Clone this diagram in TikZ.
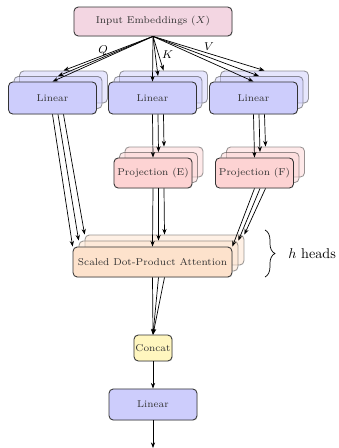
\documentclass[tikz,border=0pt]{standalone}
\usetikzlibrary{arrows.meta,decorations.pathreplacing,shadows}
\definecolor{inpc}{HTML}{F3D6E2}
\definecolor{linc}{HTML}{CDCDFC}
\definecolor{proc}{HTML}{FDD3D3}
\definecolor{attc}{HTML}{FDE2CC}
\definecolor{catc}{HTML}{FFF6BF}
\tikzset{
  box/.style={draw=black!80, rounded corners=3pt, line width=0.6pt, font=\scriptsize, inner sep=0pt, text=black!80},
  front/.style={drop shadow={opacity=0.2, shadow xshift=0.5pt, shadow yshift=-0.5pt}},
  layer/.style={fill opacity=0.5, draw opacity=0.5},
  linbox/.style={box, fill=linc, minimum width=62pt, minimum height=22.6pt},
  probox/.style={box, fill=proc, minimum width=55pt, minimum height=21.2pt},
  attbox/.style={box, fill=attc, minimum width=112pt, minimum height=21.2pt},
  arr/.style={-{Stealth[length=4pt,width=3pt]}, line width=0.5pt},
  lab/.style={font=\footnotesize, inner sep=0pt}
}
\newcommand{\mystack}[6]{%
  \node[#4, layer] (#1c) at ({#2+2*#6},{#3-2*#6}) {};
  \node[#4, layer] (#1b) at ({#2+#6},{#3-#6}) {};
  \node[#4, front] (#1a) at (#2,#3) {#5};}
\begin{document}
\begin{tikzpicture}[x=0.705pt,y=-0.705pt]
\useasboundingbox (0,0) rectangle (338,448);
\node[box, front, fill=inpc, minimum width=111.4pt, minimum height=20.4pt] (inp) at (153,21.5) {Input Embeddings ($X$)};
\mystack{linq}{52.5}{98}{linbox}{Linear}{5.5}
\mystack{link}{152.5}{98}{linbox}{Linear}{5.5}
\mystack{linv}{253.5}{98}{linbox}{Linear}{5.5}
\mystack{proe}{153}{173}{probox}{Projection (E)}{5.5}
\mystack{prof}{254.5}{173}{probox}{Projection (F)}{5.5}
\mystack{att}{152.5}{262}{attbox}{Scaled Dot-Product Attention}{6}
\node[box, front, fill=catc, minimum width=26.8pt, minimum height=18.3pt] (cat) at (153,348) {Concat};
\node[linbox, front, minimum height=21.9pt] (lin) at (153,404.5) {Linear};
\coordinate (out) at (153,448);
\foreach \l in {a,b,c} {
  \draw[arr] (inp.south) -- (linq\l.north);
  \draw[arr] (inp.south) -- (link\l.north);
  \draw[arr] (inp.south) -- (linv\l.north);
  \draw[arr] (link\l.south |- linka.south) -- (proe\l.north);
  \draw[arr] (linv\l.south |- linva.south) -- (prof\l.north);
  \draw[arr] (linq\l.south |- linqa.south) -- (att\l.north west);
  \draw[arr] (proe\l.south |- proea.south) -- (att\l.north);
  \draw[arr] (prof\l.south |- profa.south) -- (att\l.north east);
  \draw[arr] (att\l.south |- atta.south) -- (cat.north);
}
\draw[arr] (cat.south) -- (lin.north);
\draw[arr] (lin.south) -- (out);
\node[lab] (q) at (103,51) {$Q$};
\node[lab] (k) at (167.5,54.5) {$K$};
\node[lab] (v) at (209,47) {$V$};
\coordinate (bt) at (265,230);
\coordinate (bb) at (265,277);
\draw[decorate, decoration={brace, amplitude=7pt}, line width=0.5pt] (bt) -- (bb);
\node[inner sep=0pt, anchor=west] (hh) at (288,254) {$h$ heads};
\end{tikzpicture}
\end{document}
